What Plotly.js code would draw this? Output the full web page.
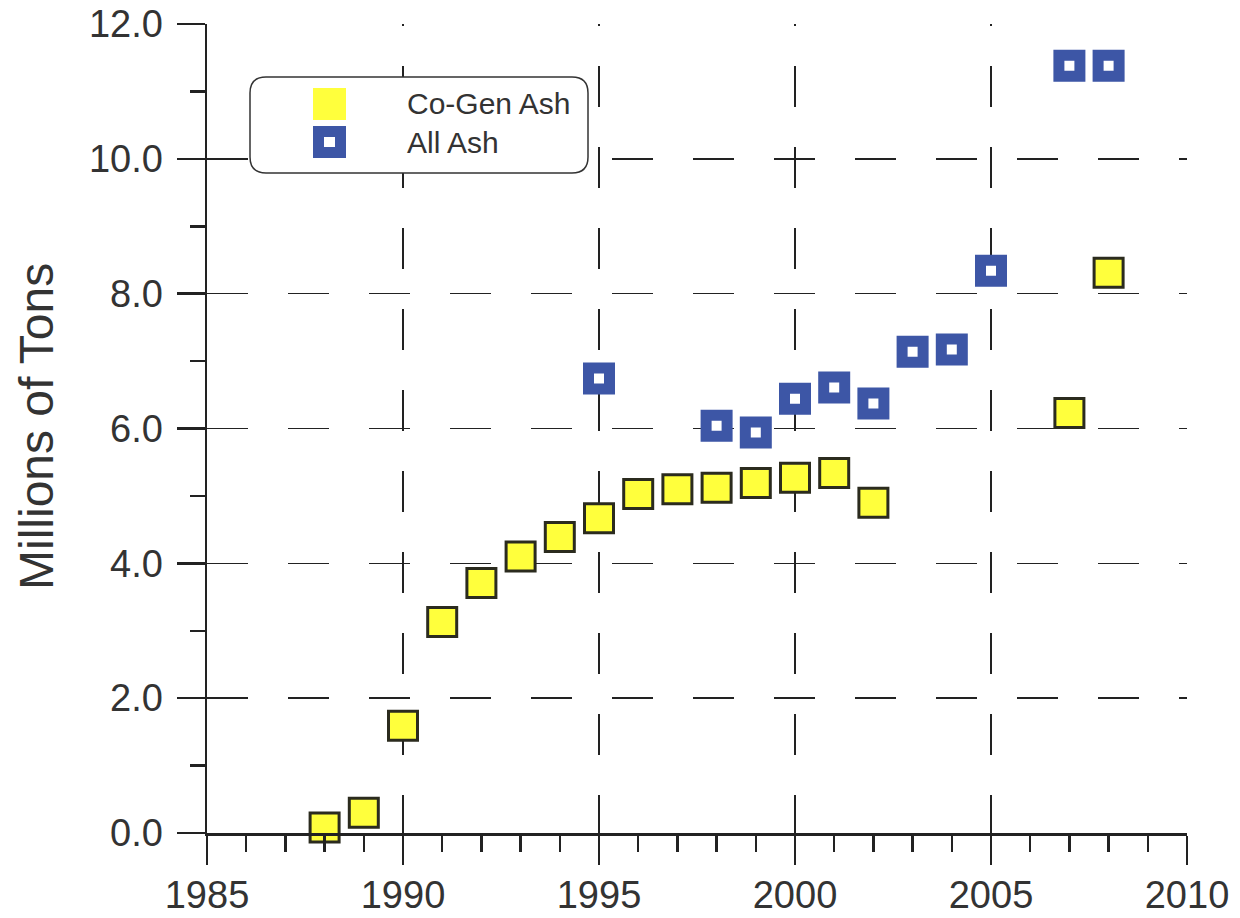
<!DOCTYPE html>
<html>
<head>
<meta charset="utf-8">
<script src="https://cdn.plot.ly/plotly-3.0.1.min.js"></script>
<style>html,body{margin:0;padding:0;background:#fff;}#chart{width:1240px;height:918px;}</style>
</head>
<body>
<div id="chart"></div>
<script>
// ---- data ----
const cogenYears = [1988, 1989, 1990, 1991, 1992, 1993, 1994, 1995, 1996, 1997, 1998, 1999, 2000, 2001, 2002, 2007, 2008];
const cogenAsh   = [0.08, 0.30, 1.59, 3.13, 3.71, 4.10, 4.39, 4.67, 5.03, 5.10, 5.12, 5.19, 5.27, 5.34, 4.90, 6.23, 8.31];
const allYears   = [1995, 1998, 1999, 2000, 2001, 2002, 2003, 2004, 2005, 2007, 2008];
const allAsh     = [6.74, 6.04, 5.94, 6.44, 6.61, 6.37, 7.14, 7.17, 8.34, 11.38, 11.38];
const seriesNames = ["Co-Gen Ash", "All Ash"];
const yTitle = "Millions of Tons";

// ---- layout geometry ----
const W = 1240, H = 918;
const L = 207, R = 1187, T = 24, B = 833;
const px = x => (x - L) / (R - L);
const py = y => (B - y) / (B - T);

const YELLOW = "#ffff3c", BLUE = "#3d56a6", INK = "#222222";
const FONT = "Liberation Sans, Arial, sans-serif";
// vertical grid dash phase (depends on drawing direction of grid path)
const VDASH_TOP = "2px,40px,39px,0px";
const VDASH_BOTTOM = "38px,40px,3px,0px";

const traces = [
  {
    x: cogenYears, y: cogenAsh, name: seriesNames[0], type: "scatter", mode: "markers",
    marker: {symbol: "square", size: 29, color: YELLOW, line: {color: "#2b2b1e", width: 3}},
    cliponaxis: false, showlegend: false
  },
  {
    x: allYears, y: allAsh, name: seriesNames[1], type: "scatter", mode: "markers",
    marker: {symbol: "square", size: 21, color: "#ffffff", line: {color: BLUE, width: 11}},
    cliponaxis: false, showlegend: false
  }
];

// rounded legend box
const bx0 = 250, bx1 = 588, by0 = 77, by1 = 173, rad = 16;
function roundedPath(x0, y0, x1, y1, r) {
  const P = (x, y) => px(x) + "," + py(y);
  return "M" + P(x0 + r, y0) + " L" + P(x1 - r, y0) + " Q" + P(x1, y0) + " " + P(x1, y0 + r) +
         " L" + P(x1, y1 - r) + " Q" + P(x1, y1) + " " + P(x1 - r, y1) +
         " L" + P(x0 + r, y1) + " Q" + P(x0, y1) + " " + P(x0, y1 - r) +
         " L" + P(x0, y0 + r) + " Q" + P(x0, y0) + " " + P(x0 + r, y0) + " Z";
}
const rectPx = (x0, y0, x1, y1, fill) => ({
  type: "rect", xref: "paper", yref: "paper", layer: "above",
  x0: px(x0), x1: px(x1), y0: py(y1), y1: py(y0),
  fillcolor: fill, line: {width: 0}
});

const shapes = [
  {type: "path", xref: "paper", yref: "paper", layer: "above",
   path: roundedPath(bx0, by0, bx1, by1, rad), fillcolor: "#ffffff",
   line: {color: "#333333", width: 1.5}},
  rectPx(313, 88, 346, 120, YELLOW),
  rectPx(313, 126, 346, 158, BLUE),
  rectPx(324, 137, 335, 147, "#ffffff")
];

const annotations = [
  {xref: "paper", yref: "paper", x: px(405), y: py(103), text: seriesNames[0], showarrow: false,
   xanchor: "left", yanchor: "middle", font: {family: FONT, size: 30, color: "#333333"}},
  {xref: "paper", yref: "paper", x: px(405), y: py(142), text: seriesNames[1], showarrow: false,
   xanchor: "left", yanchor: "middle", font: {family: FONT, size: 30, color: "#333333"}},
  {xref: "paper", yref: "paper", x: px(36), y: py(427), text: yTitle, showarrow: false,
   textangle: -90, xanchor: "center", yanchor: "middle",
   font: {family: FONT, size: 48, color: "#333333"}}
];

const layout = {
  width: W, height: H,
  margin: {l: L, r: W - R, t: T, b: H - B},
  paper_bgcolor: "#ffffff", plot_bgcolor: "#ffffff",
  showlegend: false,
  font: {family: FONT, color: "#333333"},
  xaxis: {
    range: [1985, 2010], dtick: 5, tick0: 1985, tickformat: "d",
    showline: true, linecolor: INK, linewidth: 2.5,
    ticks: "outside", ticklen: 29, tickwidth: 2.5, tickcolor: INK,
    minor: {dtick: 1, ticks: "outside", ticklen: 16, tickwidth: 2.5, tickcolor: INK, showgrid: false},
    showgrid: true, gridcolor: "#222222", gridwidth: 1.5, griddash: VDASH_TOP,
    zeroline: false, ticklabelstandoff: -2,
    tickfont: {family: FONT, size: 38, color: "#333333"}
  },
  yaxis: {
    range: [0, 12], dtick: 2, tick0: 0, tickformat: ".1f",
    showline: true, linecolor: INK, linewidth: 2.5,
    ticks: "outside", ticklen: 28, tickwidth: 2.5, tickcolor: INK,
    minor: {dtick: 1, ticks: "outside", ticklen: 15, tickwidth: 2.5, tickcolor: INK, showgrid: false},
    showgrid: true, gridcolor: "#222222", gridwidth: 1.5, griddash: "41px,40px",
    zeroline: false, ticklabelstandoff: 6,
    tickfont: {family: FONT, size: 38, color: "#333333"}
  },
  shapes: shapes,
  annotations: annotations
};

Plotly.newPlot("chart", traces, layout, {displayModeBar: false, staticPlot: true}).then(gd => {
  const g = gd.querySelector(".xgrid");
  if (!g) return;
  const d = g.getAttribute("d") || "";
  const m = d.match(/v(-?[\d.]+)/);
  if (m && parseFloat(m[1]) < 0) {
    return Plotly.relayout(gd, {"xaxis.griddash": VDASH_BOTTOM});
  }
});
</script>
</body>
</html>
